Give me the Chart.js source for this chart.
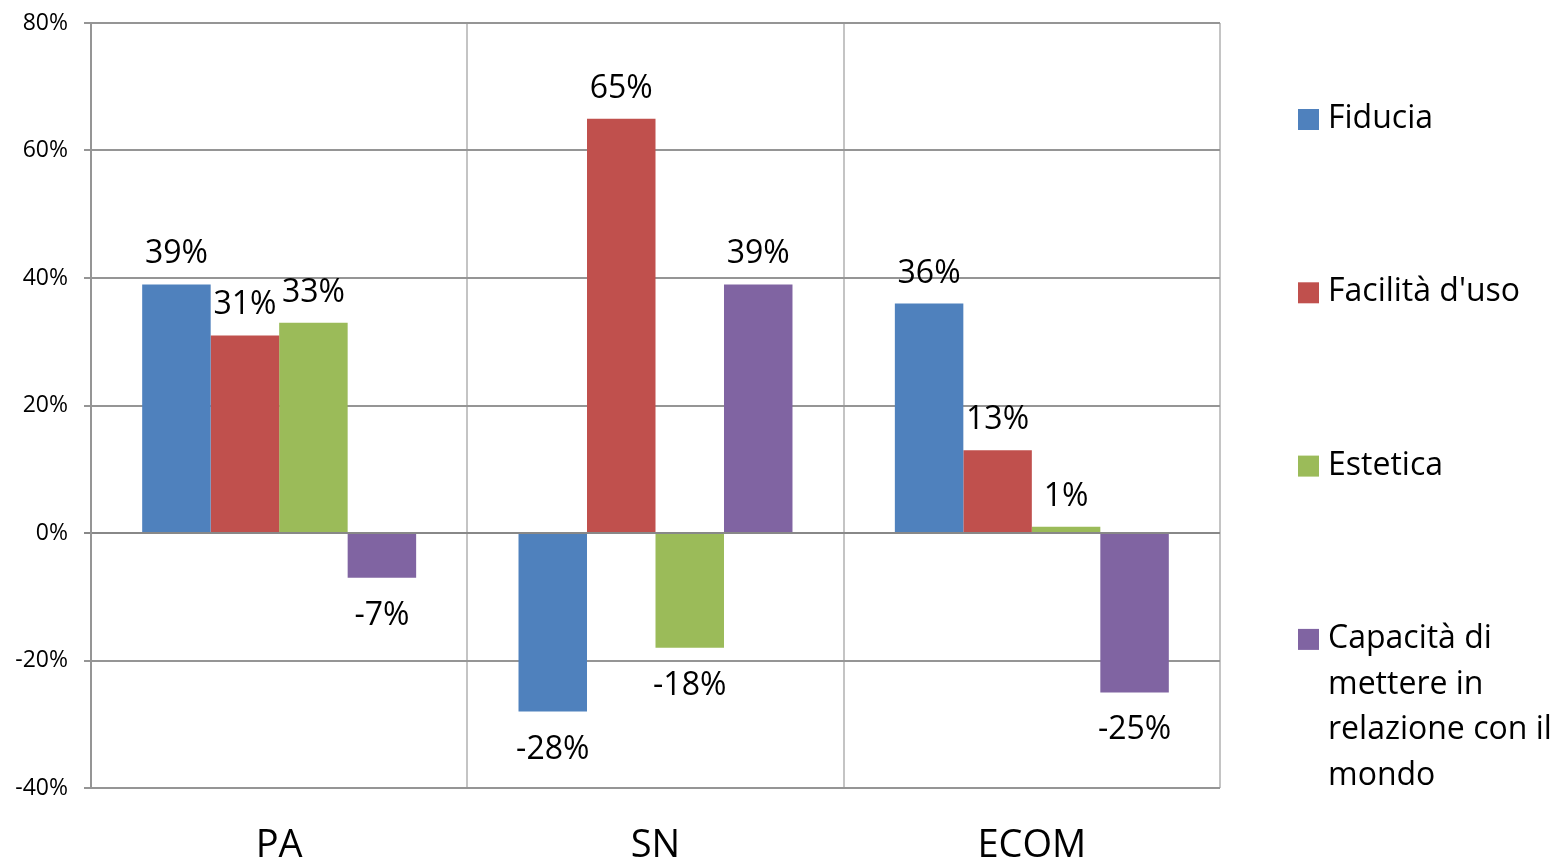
<!DOCTYPE html>
<html>
<head>
<meta charset="utf-8">
<script src="https://cdn.jsdelivr.net/npm/chart.js@4.4.1/dist/chart.umd.min.js"></script>
<style>
  html, body { margin: 0; padding: 0; background: #fff; }
  #wrap { width: 1560px; height: 861px; }
</style>
</head>
<body>
<div id="wrap"><canvas id="chart" width="1560" height="861"></canvas></div>
<script>
var categories = ["PA", "SN", "ECOM"];
var seriesNames = ["Fiducia", "Facilità d'uso", "Estetica", "Capacità di mettere in relazione con il mondo"];
var fiducia = [39, -28, 36];
var facilita = [31, 65, 13];
var estetica = [33, -18, 1];
var capacita = [-7, 39, -25];
var yTicks = [-40, -20, 0, 20, 40, 60, 80];

var colors = ["#4F81BD", "#C0504D", "#9BBB59", "#8064A2"];
var fontName = "'Open Sans', sans-serif";
var allValues = [fiducia, facilita, estetica, capacita];

var datasets = [];
for (var i = 0; i < seriesNames.length; i++) {
	datasets.push({
		label: seriesNames[i],
		data: allValues[i],
		backgroundColor: colors[i],
		borderWidth: 0,
		categoryPercentage: 0.728,
		barPercentage: 1.0
	});
}

// value labels above / below each bar
var barLabels = {
	id: "barLabels",
	afterDatasetsDraw: function(chart) {
		var ctx = chart.ctx;
		ctx.save();
		ctx.font = "32px " + fontName;
		ctx.fillStyle = "#000";
		ctx.textAlign = "center";
		ctx.textBaseline = "middle";
		chart.data.datasets.forEach(function(ds, di) {
			var meta = chart.getDatasetMeta(di);
			meta.data.forEach(function(bar, j) {
				var v = ds.data[j];
				var y = v >= 0 ? bar.y - 30 : bar.y + 38;
				ctx.fillText(v + "%", bar.x, y);
			});
		});
		ctx.restore();
	}
};

// legend on the right, wrapped like the original
var sideLegend = {
	id: "sideLegend",
	afterDraw: function(chart) {
		var ctx = chart.ctx;
		var boxX = 1298, textX = 1328, maxW = chart.width - textX;
		var firstY = 119, step = 173.3, lineH = 45.5;
		ctx.save();
		ctx.font = "32px " + fontName;
		ctx.textBaseline = "middle";
		chart.data.datasets.forEach(function(ds, i) {
			var y = firstY + i * step;
			ctx.fillStyle = ds.backgroundColor;
			ctx.fillRect(boxX, y - 10, 21, 21);
			var words = ds.label.split(" ");
			var lines = [], cur = "";
			words.forEach(function(w) {
				var t = cur ? cur + " " + w : w;
				if (cur && ctx.measureText(t).width > maxW) {
					lines.push(cur);
					cur = w;
				} else {
					cur = t;
				}
			});
			lines.push(cur);
			ctx.fillStyle = "#000";
			lines.forEach(function(l, k) {
				ctx.fillText(l, textX, y + k * lineH);
			});
		});
		ctx.restore();
	}
};

new Chart(document.getElementById("chart"), {
	type: "bar",
	data: { labels: categories, datasets: datasets },
	options: {
		responsive: false,
		animation: false,
		layout: { padding: { top: 23, right: 340, left: 0, bottom: 0 } },
		plugins: {
			legend: { display: false },
			tooltip: { enabled: false }
		},
		scales: {
			x: {
				grid: { offset: true, color: "#c4c4c4", lineWidth: 2, drawTicks: false },
				border: { display: false },
				ticks: { color: "#000", font: { size: 38, family: fontName }, padding: 35 },
				afterFit: function(s) { s.height = 73; s.paddingLeft = 0; s.paddingRight = 0; }
			},
			y: {
				min: -40, max: 80,
				afterBuildTicks: function(s) { s.ticks = yTicks.map(function(v) { return { value: v }; }); },
				grid: {
					color: function(c) { return c.tick && c.tick.value === 0 ? "#888" : "#959595"; },
					lineWidth: 2, tickLength: 7
				},
				border: { color: "#959595", width: 2 },
				ticks: {
					color: "#000", padding: 16,
					font: { size: 23, family: fontName },
					callback: function(v) { return v + "%"; }
				},
				afterFit: function(s) { s.width = 91; s.paddingTop = 0; s.paddingBottom = 0; }
			}
		}
	},
	plugins: [barLabels, sideLegend]
});
</script>
</body>
</html>
